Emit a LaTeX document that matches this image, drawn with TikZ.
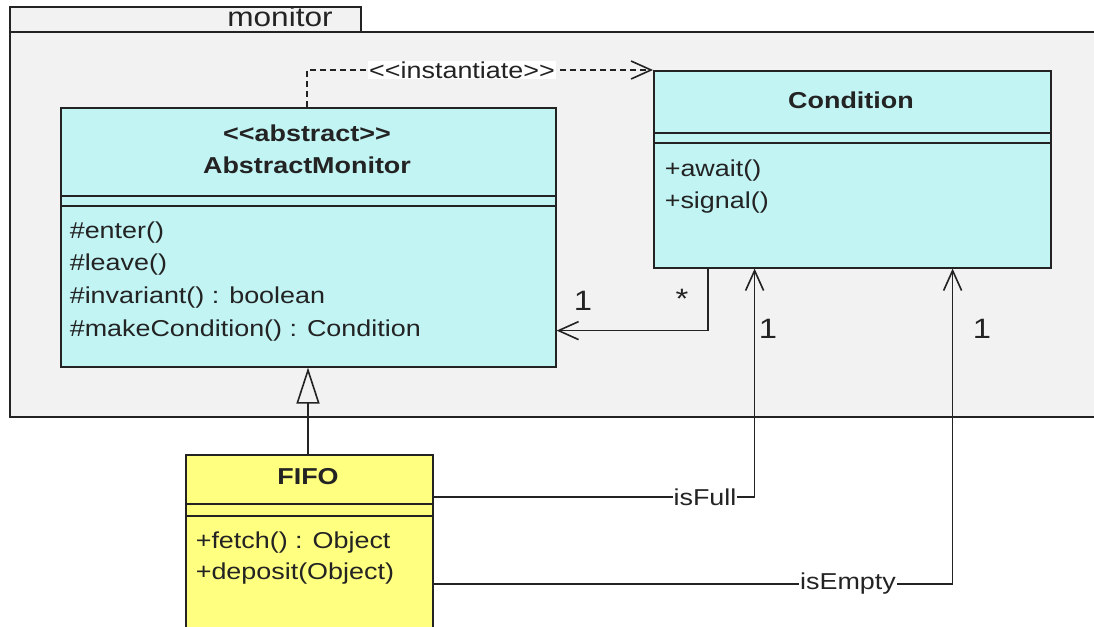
\documentclass[tikz,border=0pt]{standalone}
\usepackage{fontspec}
\setmainfont{Liberation Sans}[FakeStretch=1.17]
\usetikzlibrary{arrows.meta,calc}
\definecolor{pkgfill}{RGB}{242,242,242}
\definecolor{clsfill}{RGB}{194,244,244}
\definecolor{fifofill}{RGB}{255,255,128}
\definecolor{ln}{RGB}{35,35,35}
\newcommand{\stl}{<\kern0pt<}
\newcommand{\stg}{>\kern0pt>}
\begin{document}
\begin{tikzpicture}[x=1pt,y=-1pt, line width=1.6pt,
  box/.style={draw=ln, rectangle, inner sep=0pt, anchor=north west},
  txt/.style={inner sep=0pt, font=\fontsize{23}{27}\selectfont, text=ln},
  bold/.style={inner sep=0pt, font=\fontsize{23}{27}\selectfont\bfseries, text=ln},
  mult/.style={inner sep=0pt, font=\fontsize{28}{32}\selectfont, text=ln},
  lbl/.style={inner sep=1pt, fill=white, font=\fontsize{23}{27}\selectfont, text=ln},
  conn/.style={draw=ln, line width=1.6pt},
  barb/.style={-{Straight Barb[length=20pt,width=18pt]}},
  gen/.style={-{Triangle[open,length=36pt,width=23pt]}},
]
\useasboundingbox (0,0) rectangle (1094,626);
\clip (0,0) rectangle (1094,626);
\fill[white] (0,0) rectangle (1094,626);
% package
\node[box, fill=pkgfill, minimum width=351pt, minimum height=25pt] (tab) at (9,6) {};
\node[box, fill=pkgfill, minimum width=1100pt, minimum height=385pt] (pkg) at (9,31) {};
\node[inner sep=0pt, font=\fontsize{27}{30}\selectfont, text=ln] (pkgname) at (280,17) {monitor};
% AbstractMonitor
\node[box, fill=clsfill, minimum width=495pt, minimum height=259pt] (am) at (60,107) {};
\draw[ln] ($(am.north west)+(0,89)$) -- ($(am.north east)+(0,89)$);
\draw[ln] ($(am.north west)+(0,99)$) -- ($(am.north east)+(0,99)$);
\node[bold] (amst) at (307,133) {\stl abstract\stg};
\node[bold] (amname) at (307,165) {AbstractMonitor};
\node[txt, anchor=west] (op1) at (69,233) {\#enter()};
\node[txt, anchor=west] (op2) at (69,265) {\#leave()};
\node[txt, anchor=west] (op3) at (69,298) {\#invariant() : boolean};
\node[txt, anchor=west] (op4) at (69,331) {\#makeCondition() : Condition};
% Condition
\node[box, fill=clsfill, minimum width=397pt, minimum height=197pt] (cond) at (653,70) {};
\draw[ln] ($(cond.north west)+(0,63)$) -- ($(cond.north east)+(0,63)$);
\draw[ln] ($(cond.north west)+(0,73)$) -- ($(cond.north east)+(0,73)$);
\node[bold] (condname) at (851,100) {Condition};
\node[txt, anchor=west] (cop1) at (664,171) {+await()};
\node[txt, anchor=west] (cop2) at (664,203) {+signal()};
% FIFO
\node[box, fill=fifofill, minimum width=247pt, minimum height=200pt] (fifo) at (185,454) {};
\draw[ln] ($(fifo.north west)+(0,50)$) -- ($(fifo.north east)+(0,50)$);
\draw[ln] ($(fifo.north west)+(0,62)$) -- ($(fifo.north east)+(0,62)$);
\node[bold] (fifoname) at (308,477) {FIFO};
\node[txt, anchor=west] (fop1) at (195,543) {+fetch() : Object};
\node[txt, anchor=west] (fop2) at (195,574) {+deposit(Object)};
% instantiate dependency
\coordinate (ibend) at ($(am.north west)+(247,-37)$);
\draw[conn, dash pattern=on 6pt off 4pt, barb] ($(am.north west)+(247,0)$) -- (ibend) -- (cond.north west);
\node[lbl] (inst) at (462,70) {\stl instantiate\stg};
% association Condition -> AbstractMonitor
\coordinate (abend) at ($(cond.south west)+(55,62)$);
\draw[conn, barb] ($(cond.south west)+(55,0)$) -- (abend) -- (abend -| am.east);
\node[mult] (m1) at (583,301) {1};
\node[mult] (mstar) at (682,299) {*};
% generalization
\draw[conn, gen] ($(fifo.north west)+(123,0)$) -- ($(am.south west)+(248,0)$);
% isFull
\coordinate (fbend) at ($(fifo.north east)+(321,43)$);
\draw[conn, barb] ($(fifo.north east)+(0,43)$) -- (fbend) -- (fbend |- cond.south);
\node[lbl] (isfull) at (705,497) {isFull};
\node[mult] (m2) at (768,329) {1};
% isEmpty
\coordinate (ebend) at ($(fifo.north east)+(519,130)$);
\draw[conn, barb] ($(fifo.north east)+(0,130)$) -- (ebend) -- (ebend |- cond.south);
\node[lbl] (isempty) at (848,584) {isEmpty};
\node[mult] (m3) at (982,329) {1};
\end{tikzpicture}
\end{document}
